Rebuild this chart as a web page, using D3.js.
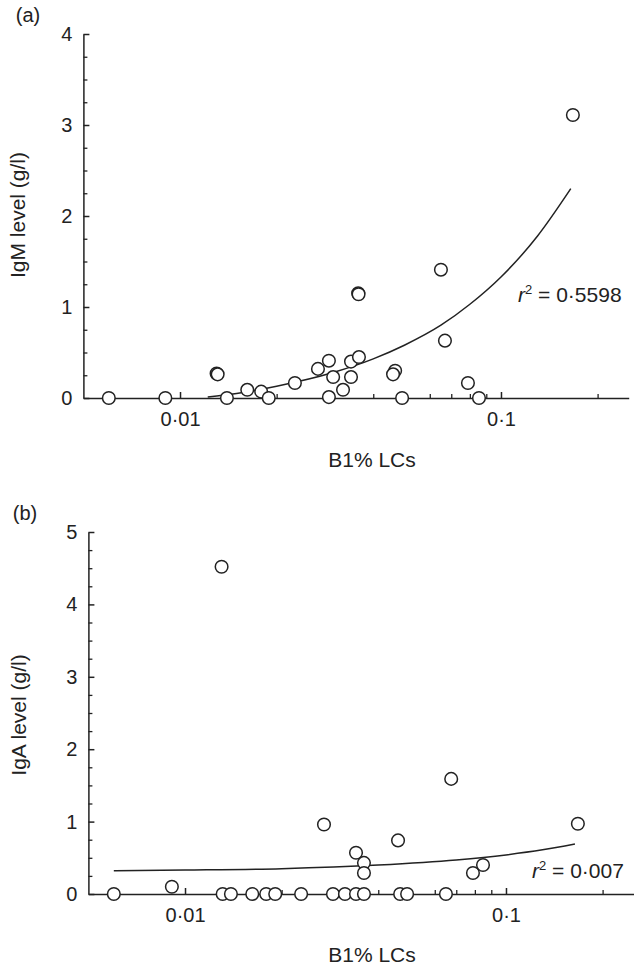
<!DOCTYPE html>
<html>
<head>
<meta charset="utf-8">
<script src="https://cdn.jsdelivr.net/npm/d3@7"></script>
<style>
  html, body { margin: 0; padding: 0; background: #fff; }
  svg text { font-family: "Liberation Sans", Arial, Helvetica, sans-serif; fill: #222; }
</style>
</head>
<body>
<svg id="chart" width="634" height="966"></svg>
<script>
// ---------------- data ----------------
// Panel (a): IgM level vs B1% LCs
const igmX = [0.0060, 0.0090, 0.0130, 0.0131, 0.0140, 0.0162, 0.0179, 0.0189, 0.0228, 0.0269,
              0.0291, 0.0300, 0.0291, 0.0322, 0.0341, 0.0341, 0.0361, 0.0359, 0.0360, 0.0468,
              0.0461, 0.0492, 0.0650, 0.0669, 0.0789, 0.0854, 0.1675];
const igmY = [0, 0, 0.27, 0.26, 0, 0.09, 0.07, 0, 0.165, 0.32,
              0.41, 0.23, 0.01, 0.09, 0.40, 0.23, 0.45, 1.15, 1.14, 0.30,
              0.26, 0, 1.41, 0.63, 0.165, 0, 3.11];
// regression curve of panel (a)
const fitAX = [0.0122, 0.015, 0.02, 0.03, 0.04, 0.05, 0.065, 0.08, 0.1, 0.13, 0.165];
const fitAY = [0.01, 0.05, 0.13, 0.28, 0.43, 0.58, 0.80, 1.03, 1.33, 1.78, 2.30];
const r2A = "0·5598";

// Panel (b): IgA level vs B1% LCs
const igaX = [0.0060, 0.0131, 0.0139, 0.0162, 0.0179, 0.0191, 0.0230, 0.0289, 0.0315, 0.0341,
              0.0361, 0.0468, 0.0492, 0.0650,
              0.0091, 0.0130, 0.0271, 0.0341, 0.0361, 0.0361, 0.0461, 0.0675, 0.0789, 0.0848, 0.1675];
const igaY = [0, 0, 0, 0, 0, 0, 0, 0, 0, 0,
              0, 0, 0, 0,
              0.10, 4.52, 0.96, 0.57, 0.43, 0.29, 0.74, 1.59, 0.29, 0.40, 0.97];
const fitBX = [0.006, 0.01, 0.02, 0.04, 0.07, 0.1, 0.13, 0.164];
const fitBY = [0.32, 0.33, 0.35, 0.40, 0.47, 0.54, 0.61, 0.69];
const r2B = "0·007";

// axes
const xDomain = [0.005, 0.25];
const xMajorTicks = [0.01, 0.1];
const xMajorLabels = ["0·01", "0·1"];
const xMinorTicks = [0.02, 0.03, 0.04, 0.05, 0.06, 0.07, 0.08, 0.09, 0.2];
const yTicksA = [0, 1, 2, 3, 4];
const yTicksB = [0, 1, 2, 3, 4, 5];
const xTitle = "B1% LCs";

// ---------------- drawing ----------------
const svg = d3.select("#chart");
const ink = "#222";

function panel(cfg) {
  const g = svg.append("g");
  const x = d3.scaleLog().domain(xDomain).range([cfg.left, cfg.right]);
  const y = d3.scaleLinear().domain([0, cfg.yMax]).range([cfg.bottom, cfg.top]);

  const yMinor = d3.range(0, cfg.yMax + 0.001, 0.25).filter(v => Math.abs(v - Math.round(v)) > 0.01);

  // y minor ticks
  g.append("g").attr("transform", `translate(${cfg.left},0)`)
    .call(d3.axisLeft(y).tickValues(yMinor).tickSize(-4).tickSizeOuter(0).tickFormat(""))
    .call(s => s.select(".domain").remove())
    .call(s => s.selectAll("line").attr("stroke", ink).attr("stroke-width", 1.3));
  // y major
  g.append("g").attr("transform", `translate(${cfg.left},0)`)
    .call(d3.axisLeft(y).tickValues(cfg.yTicks).tickSize(-6).tickSizeOuter(0).tickPadding(11).tickFormat(d3.format("d")))
    .call(s => s.selectAll("text").style("font-size", "20px").attr("fill", ink))
    .call(s => s.selectAll("line,path").attr("stroke", ink).attr("stroke-width", 1.5));

  // x minor
  g.append("g").attr("transform", `translate(0,${cfg.bottom})`)
    .call(d3.axisBottom(x).tickValues(xMinorTicks).tickSize(-4).tickSizeOuter(0).tickFormat(""))
    .call(s => s.select(".domain").remove())
    .call(s => s.selectAll("line").attr("stroke", ink).attr("stroke-width", 1.3));
  // x major
  g.append("g").attr("transform", `translate(0,${cfg.bottom})`)
    .call(d3.axisBottom(x).tickValues(xMajorTicks).tickSize(-6).tickSizeOuter(0).tickPadding(14)
      .tickFormat((d, i) => xMajorLabels[i]))
    .call(s => s.selectAll("text").style("font-size", "20px").attr("fill", ink))
    .call(s => s.selectAll("line,path").attr("stroke", ink).attr("stroke-width", 1.5));

  // axis titles
  g.append("text")
    .attr("transform", `translate(${cfg.yTitleX},${cfg.yTitleY}) rotate(-90)`)
    .attr("text-anchor", "middle").attr("dominant-baseline", "central")
    .style("font-size", "21px").text(cfg.yTitle);
  g.append("text")
    .attr("x", cfg.xTitleX).attr("y", cfg.xTitleBase)
    .attr("text-anchor", "middle").style("font-size", "21px").text(xTitle);

  // panel letter
  g.append("text").attr("x", cfg.letterX).attr("y", cfg.letterY)
    .attr("text-anchor", "middle").attr("dominant-baseline", "central")
    .style("font-size", "20px").text(cfg.letter);

  // fit line
  const fit = cfg.fitX.map((v, i) => [v, cfg.fitY[i]]);
  g.append("path").datum(fit)
    .attr("fill", "none").attr("stroke", ink).attr("stroke-width", 1.5)
    .attr("d", d3.line().x(d => x(d[0])).y(d => y(d[1])).curve(d3.curveMonotoneX));

  // points
  const pts = cfg.px.map((v, i) => [v, cfg.py[i]]);
  g.append("g").selectAll("circle").data(pts).join("circle")
    .attr("cx", d => x(d[0])).attr("cy", d => y(d[1])).attr("r", 6.3)
    .attr("fill", "#fff")
    .attr("stroke", ink).attr("stroke-width", 1.5);

  // r² annotation
  const t = g.append("text").attr("x", cfg.r2X).attr("y", cfg.r2Base).style("font-size", "21px");
  t.append("tspan").style("font-style", "italic").text("r");
  t.append("tspan").attr("dy", -8).style("font-size", "13px").text("2");
  t.append("tspan").attr("dy", 8).text(" = " + cfg.r2);
}

panel({
  left: 83.4, right: 628.7, top: 34, bottom: 398, yMax: 4, yTicks: yTicksA,
  yTitle: "IgM level (g/l)", yTitleX: 17, yTitleY: 215,
  xTitleX: 372, xTitleBase: 467,
  letter: "(a)", letterX: 28, letterY: 15,
  fitX: fitAX, fitY: fitAY, px: igmX, py: igmY,
  r2: r2A, r2X: 518, r2Base: 302
});

panel({
  left: 88.4, right: 633.7, top: 532, bottom: 894, yMax: 5, yTicks: yTicksB,
  yTitle: "IgA level (g/l)", yTitleX: 18, yTitleY: 715,
  xTitleX: 372, xTitleBase: 962,
  letter: "(b)", letterX: 25, letterY: 513,
  fitX: fitBX, fitY: fitBY, px: igaX, py: igaY,
  r2: r2B, r2X: 532, r2Base: 878
});
</script>
</body>
</html>
